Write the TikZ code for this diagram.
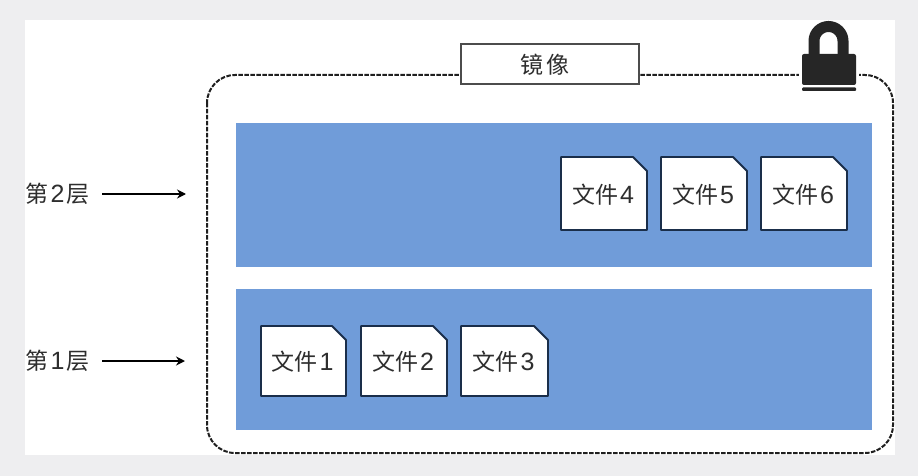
\documentclass[tikz,border=0pt]{standalone}
\usepackage{fontspec}
\setmainfont{Liberation Sans}
\newfontfamily\cjk{Noto Sans CJK SC}
\newfontfamily\latindigit{Liberation Sans}
\usetikzlibrary{arrows.meta}
\definecolor{pagebg}{HTML}{EEEEF0}
\definecolor{layerblue}{HTML}{709CD9}
\definecolor{filedge}{HTML}{1A2E4A}
\definecolor{inkdark}{HTML}{262626}
\newcommand{\cjksz}{\cjk\fontsize{23}{25}\selectfont}
\newcommand{\digsz}[1]{\hspace{2pt}{\latindigit\fontsize{25}{26}\selectfont #1}}
\tikzset{
  layer/.style={fill=layerblue,draw=none,minimum width=636pt,inner sep=0pt,outer sep=0pt},
  filetext/.style={inner sep=0pt,text=black!82},
  levellabel/.style={inner sep=0pt,text=black!82},
  levelarrow/.style={draw=black,line width=2.2pt,-{Stealth[length=9pt,width=9pt]}},
  filesheet/.style={fill=white,draw=filedge,line width=1.8pt,line join=round},
}
\newcommand{\filesheet}[6]{%
  \draw[filesheet] (#2,#3) -- (#4-14,#3) -- (#4,#3+14) -- (#4,#5) -- (#2,#5) -- cycle;
  \node[filetext] (#1) at ({(#2+#4)/2-1},{(#3+#5)/2+1}) {\cjksz 文件\digsz{#6}};
}
\begin{document}
\begin{tikzpicture}[x=1pt,y=-1pt]
\useasboundingbox (0,0) rectangle (918,476);
\fill[pagebg] (0,0) rectangle (918,476);
\fill[white] (25,20) rectangle (895,455);
\draw[black!88,line width=2pt,dash pattern=on 4.5pt off 1.5pt,rounded corners=28pt] (207,75) rectangle (893,453);
\node[layer,minimum height=144pt] (upper) at (554,195) {};
\node[layer,minimum height=141pt] (lower) at (554,359.5) {};
\node[draw=black!70,line width=1.3pt,fill=white,minimum width=178pt,minimum height=40pt,inner sep=0pt] (title) at (550,64) {};
\node[inner sep=0pt,text=black!82] (titletext) at (545,65) {\cjksz 镜\hspace{3pt}像};
% lock
\fill[white] (799,46) rectangle (859,94);
\draw[inkdark,line width=11pt] (814,56) -- (814,41) arc[start angle=180,end angle=360,radius=14.5] -- (843,56);
\fill[inkdark,rounded corners=2pt] (802,54) rectangle (856,85);
\fill[inkdark,rounded corners=1pt] (802,87.5) rectangle (856,91);
\filesheet{f4}{561}{157}{647}{230}{4}
\filesheet{f5}{661}{157}{747}{230}{5}
\filesheet{f6}{761}{157}{847}{230}{6}
\filesheet{f1}{261}{326}{346}{396}{1}
\filesheet{f2}{361}{326}{447}{396}{2}
\filesheet{f3}{461}{326}{548}{396}{3}
\node[levellabel] (l2) at (57.5,194) {\cjksz 第\digsz{2}\hspace{2pt}层};
\node[levellabel] (l1) at (57.5,361) {\cjksz 第\digsz{1}\hspace{2pt}层};
\coordinate (a2) at (186,194);
\coordinate (a1) at (185,361);
\coordinate (s2) at (102,194);
\coordinate (s1) at (102,361);
\draw[levelarrow] (s2) -- (a2);
\draw[levelarrow] (s1) -- (a1);
\end{tikzpicture}
\end{document}
